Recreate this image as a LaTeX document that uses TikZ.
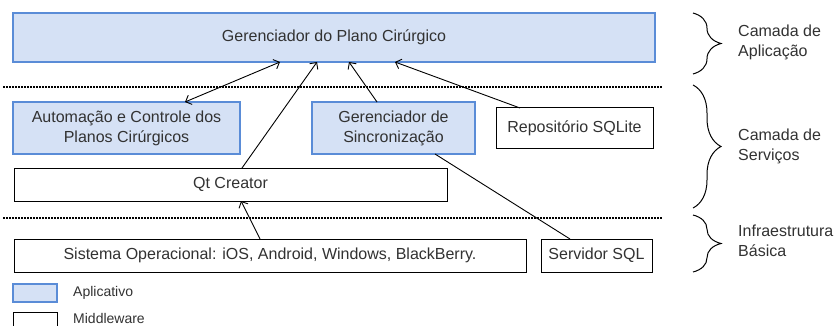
\documentclass[tikz,border=0pt]{standalone}
\usepackage{fontspec}
\setmainfont{Liberation Sans}
\usetikzlibrary{arrows.meta,decorations.pathreplacing}
\definecolor{appfill}{RGB}{213,225,245}
\definecolor{appdraw}{RGB}{90,140,215}
\definecolor{txt}{RGB}{50,50,50}
\begin{document}
\begin{tikzpicture}[x=1pt,y=-1pt,
  box/.style={draw=black, line width=1pt, fill=white, inner sep=0pt, outer sep=0pt,
    align=center, text=txt, font=\fontsize{16}{20}\selectfont},
  app/.style={box, draw=appdraw, fill=appfill, line width=2pt},
  arr/.style={line width=0.9pt, -{Straight Barb[length=5pt,width=10pt]}},
  darr/.style={line width=0.9pt, {Straight Barb[length=5pt,width=10pt]}-{Straight Barb[length=5pt,width=10pt]}},
  plain/.style={line width=0.9pt},
  sep/.style={line width=2pt, dash pattern=on 1.5pt off 1.5pt},
  brc/.style={decorate, decoration={brace, amplitude=28pt}, line width=1pt},
  lab/.style={anchor=west, align=left, inner sep=0pt, text=txt, font=\fontsize{16}{20}\selectfont},
  leg/.style={anchor=west, inner sep=0pt, text=txt, font=\fontsize{14}{16}\selectfont}]
\clip (0,0) rectangle (837,326);
\fill[white] (0,0) rectangle (837,326);

% boxes
\node[app, minimum width=642pt, minimum height=49pt] (top) at (334,37.5) {Gerenciador do Plano Cirúrgico};
\node[app, minimum width=227pt, minimum height=52pt] (auto) at (126.5,128) {Automação e Controle dos\\Planos Cirúrgicos};
\node[app, minimum width=163pt, minimum height=52pt] (sync) at (393.5,128) {Gerenciador de\\Sincronização};
\node[box, minimum width=157pt, minimum height=40pt] (repo) at (574.5,128) {Repositório SQLite};
\node[box, minimum width=433pt, minimum height=33pt] (qt) at (230.5,184.5) {Qt Creator};
\node[box, minimum width=512pt, minimum height=33pt] (so) at (270,255.5) {Sistema Operacional: iOS, Android, Windows, BlackBerry.};
\node[box, minimum width=111pt, minimum height=33pt] (sql) at (596.5,255.5) {Servidor SQL};

% separators
\draw[sep] (3,87) -- (663,87);
\draw[sep] (3,218) -- (663,218);

% connectors
\draw[darr] ([xshift=172pt]auto.north west) -- ([xshift=267pt]top.south west);
\draw[arr] ([xshift=228pt]qt.north west) -- ([xshift=304pt]top.south west);
\draw[arr] ([xshift=65pt]sync.north west) -- ([xshift=336pt]top.south west);
\draw[arr] ([xshift=24pt]repo.north west) -- ([xshift=382pt]top.south west);
\draw[arr] ([xshift=246pt]so.north west) -- ([xshift=227pt]qt.south west);
\draw[plain] ([xshift=123pt]sync.south west) -- ([xshift=29pt]sql.north west);

% braces
\coordinate (b1a) at (693,13); \coordinate (b1b) at (693,74);
\coordinate (b2a) at (693,85); \coordinate (b2b) at (693,208);
\coordinate (b3a) at (693,215); \coordinate (b3b) at (693,272);
\draw[brc] (b1a) -- (b1b);
\draw[brc] (b2a) -- (b2b);
\draw[brc] (b3a) -- (b3b);
\node[lab] (l1) at (738,42) {Camada de\\Aplicação};
\node[lab] (l2) at (738,146) {Camada de\\Serviços};
\node[lab] (l3) at (738,241) {Infraestrutura\\Básica};

% legend
\node[app, minimum width=44pt, minimum height=18pt] (lgA) at (35,293) {};
\node[leg] (lgAt) at (73,293) {Aplicativo};
\node[box, minimum width=44pt, minimum height=18pt] (lgM) at (35,321) {};
\node[leg] (lgMt) at (73,318) {Middleware};
\end{tikzpicture}
\end{document}
